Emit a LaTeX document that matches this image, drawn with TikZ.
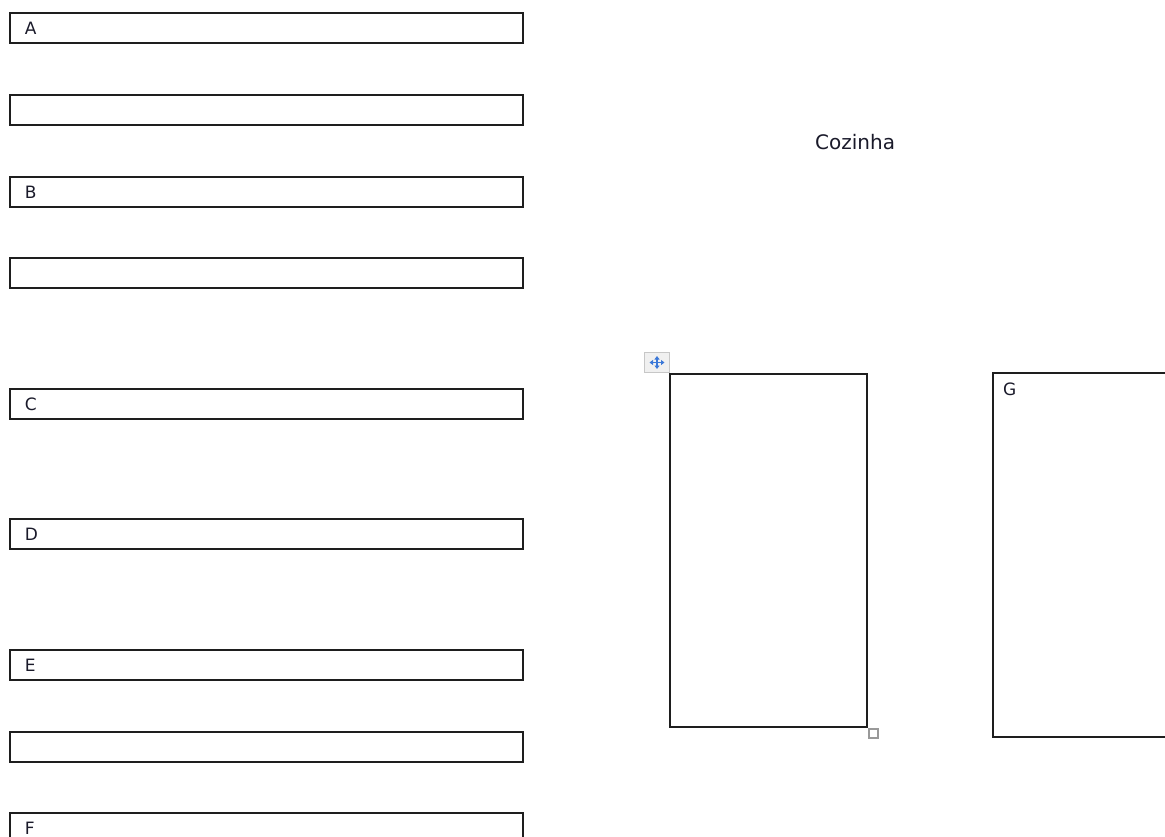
\documentclass[tikz,border=0pt]{standalone}
\usepackage{fontspec}
\setmainfont{DejaVu Sans}
\usetikzlibrary{arrows.meta}
\definecolor{linec}{HTML}{1E1E1E}
\definecolor{textc}{HTML}{1A1A2A}
\definecolor{iconblue}{HTML}{3B78D8}
\tikzset{
  lbox/.style={draw=linec, line width=1.8pt, rectangle, anchor=north west,
    minimum width=513pt, minimum height=30pt, inner xsep=15pt, inner ysep=0pt,
    text width=483pt, align=left, text=textc, font=\fontsize{17}{19}\selectfont},
  bigbox/.style={draw=linec, line width=1.8pt, rectangle, anchor=north west, inner sep=0pt},
  lbl/.style={text=textc, inner sep=0pt, font=\fontsize{17}{19}\selectfont},
  handle/.style={draw=black!40, line width=1.6pt, fill=white, rectangle, inner sep=0pt,
    minimum width=9pt, minimum height=9pt, anchor=north west},
  movebox/.style={draw=black!22, line width=1pt, fill=black!6, rectangle, inner sep=0pt,
    minimum width=25pt, minimum height=20pt, anchor=north west},
  movearrow/.style={draw=iconblue, line width=1.4pt, -{Triangle[length=3.5pt,width=5pt]}}
}
\begin{document}
\begin{tikzpicture}[x=1pt,y=-1pt]
\useasboundingbox (0,0) rectangle (1165,837);
\clip (0,0) rectangle (1165,837);
% left column of boxes
\node[lbox] (a)  at (9,12)  {A};
\node[lbox] (b0) at (9,94)  {};
\node[lbox] (b)  at (9,176) {B};
\node[lbox] (b1) at (9,257) {};
\node[lbox] (c)  at (9,388) {C};
\node[lbox] (d)  at (9,518) {D};
\node[lbox] (e)  at (9,649) {E};
\node[lbox] (e1) at (9,731) {};
\node[lbox] (f)  at (9,812) {F};
% title
\node[text=textc, inner sep=0pt, anchor=base west, font=\fontsize{20}{22}\selectfont] (coz) at (815,150) {Cozinha};
% kitchen table box
\node[bigbox, minimum width=197pt, minimum height=353pt] (k) at (669,373) {};
\node[handle] (kh) at (868,728) {};
\node[movebox] (mv) at (644,352) {};
\coordinate (mvc) at (mv.center);
\draw[movearrow] (mvc) -- ++(7.5,0);
\draw[movearrow] (mvc) -- ++(-7.5,0);
\draw[movearrow] (mvc) -- ++(0,6.5);
\draw[movearrow] (mvc) -- ++(0,-6.5);
% G box
\node[bigbox, minimum width=220pt, minimum height=364pt] (g) at (992,372) {};
\node[lbl, anchor=north west] (gl) at ([xshift=11pt,yshift=-11pt]g.north west) {G};
\end{tikzpicture}
\end{document}
